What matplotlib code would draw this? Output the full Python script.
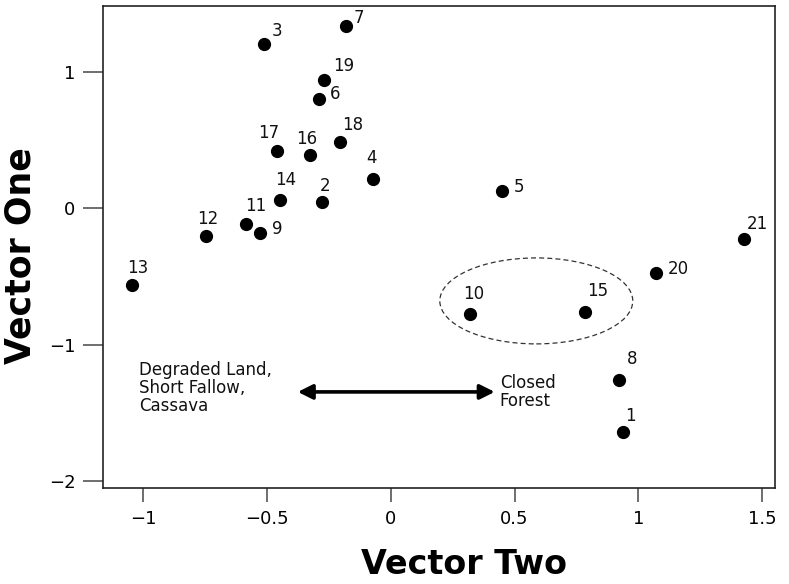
import matplotlib
matplotlib.use("Agg")
import matplotlib.pyplot as plt
from matplotlib.patches import Ellipse

# site ordination scores
site_ids = ["1", "2", "3", "4", "5", "6", "7", "8", "9", "10", "11",
            "12", "13", "14", "15", "16", "17", "18", "19", "20", "21"]
vector_two = [0.937, -0.278, -0.513, -0.074, 0.451, -0.290, -0.182, 0.922,
              -0.527, 0.319, -0.586, -0.748, -1.047, -0.446, 0.784, -0.325,
              -0.462, -0.207, -0.270, 1.071, 1.428]
vector_one = [-1.639, 0.048, 1.208, 0.219, 0.128, 0.806, 1.340, -1.259,
              -0.178, -0.774, -0.112, -0.202, -0.564, 0.062, -0.758, 0.393,
              0.422, 0.486, 0.943, -0.476, -0.226]

x_ticks = [-1, -0.5, 0, 0.5, 1, 1.5]
x_tick_labels = ["\u22121", "\u22120.5", "0", "0.5", "1", "1.5"]
y_ticks = [-2, -1, 0, 1]
y_tick_labels = ["\u22122", "\u22121", "0", "1"]

# label offsets in pixels (dx, dy) relative to each point, bottom-left anchored
label_offsets = {
    "1": (2, 7), "2": (-2, 7), "3": (8, 4), "4": (-6, 12), "5": (11, -5),
    "6": (11, -4), "7": (8, -1), "8": (8, 12), "9": (12, -5), "10": (-7, 11),
    "11": (-1, 9), "12": (-9, 8), "13": (-5, 8), "14": (-5, 11), "15": (2, 12),
    "16": (-14, 7), "17": (-18, 9), "18": (3, 8), "19": (9, 5), "20": (12, -5),
    "21": (3, 6),
}

plt.rcParams["font.family"] = ["DejaVu Sans"]

fig = plt.figure(figsize=(7.89, 5.84), dpi=100)
ax = fig.add_axes([0.130, 0.164, 0.852, 0.826])

ax.plot(vector_two, vector_one, "o", color="black", ms=8.5, ls="none")

for sid, xv, yv in zip(site_ids, vector_two, vector_one):
    dx, dy = label_offsets[sid]
    ax.annotate(sid, (xv, yv), xytext=(dx, dy), textcoords="offset pixels",
                fontsize=12, color="#111111", ha="left", va="bottom")

# dashed grouping around plots 10 and 15
ax.add_patch(Ellipse((0.588, -0.679), 0.78, 0.631, fill=False,
                     ls=(0, (4, 2.5)), lw=0.9, ec="#333333"))

# gradient arrow
ax.annotate("", xy=(-0.376, -1.347), xytext=(0.420, -1.347),
            arrowprops=dict(arrowstyle="<|-|>", color="black", lw=2.6,
                            mutation_scale=22, shrinkA=0, shrinkB=0))
ax.text(-1.019, -1.318, "Degraded Land,\nShort Fallow,\nCassava",
        fontsize=12, ha="left", va="center", color="#111111", linespacing=1.0)
ax.text(0.44, -1.347, "Closed\nForest", fontsize=12, ha="left", va="center",
        color="#111111", linespacing=1.0)

ax.set_xlim(-1.165, 1.552)
ax.set_ylim(-2.054, 1.487)
ax.set_xticks(x_ticks)
ax.set_xticklabels(x_tick_labels)
ax.set_yticks(y_ticks)
ax.set_yticklabels(y_tick_labels)
ax.tick_params(axis="x", length=10, width=1.2, color="#555555", pad=6,
               labelsize=13)
ax.tick_params(axis="y", length=14.5, width=1.2, color="#555555", pad=5,
               labelsize=13)
for sp in ax.spines.values():
    sp.set_linewidth(1.2)
    sp.set_color("#222222")

fig.text(464 / 789, 1 - 564 / 584, "Vector Two", fontsize=24,
         fontweight="bold", ha="center", va="center")
fig.text(21 / 789, 1 - 256 / 584, "Vector One", fontsize=25,
         fontweight="bold", ha="center", va="center", rotation=90)

fig.savefig("out.png", dpi=100)
